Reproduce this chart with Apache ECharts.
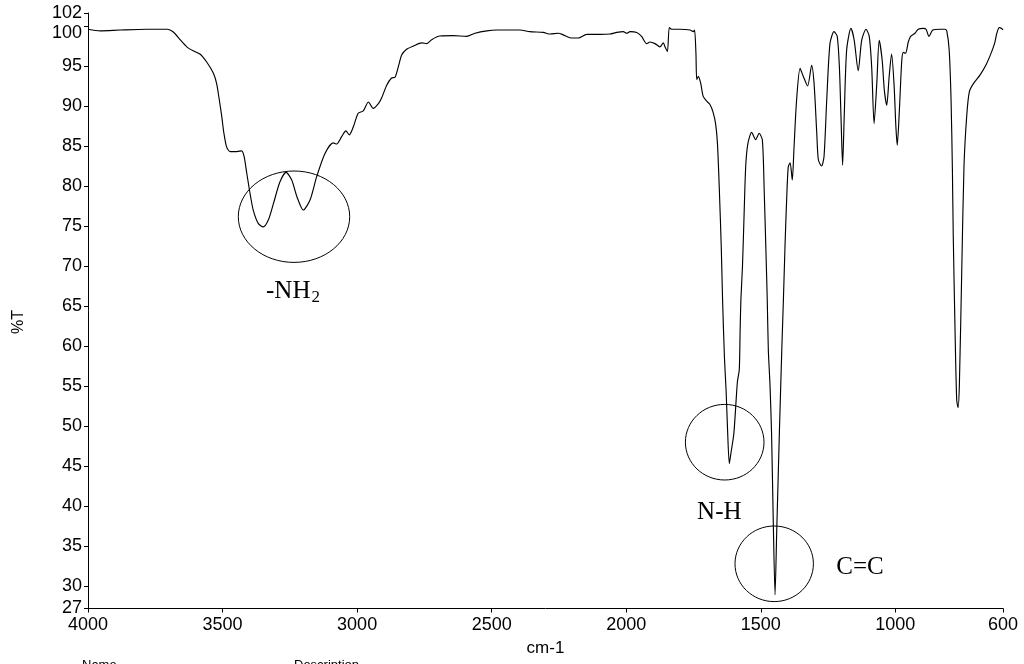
<!DOCTYPE html>
<html><head><meta charset="utf-8">
<script src="https://cdn.jsdelivr.net/npm/echarts@6/dist/echarts.min.js"></script>
<style>html,body{margin:0;padding:0;background:#fff;}#c{width:1024px;height:664px;}</style>
</head><body><div id="c"></div>
<script>
// ---- data ----
const wavenumbers = [4000,3955,3881,3782,3705,3683,3658,3633,3609,3584,3559,3534,3522,3512,3503,3495,3485,3472,3447,3429,3420,3410,3398,3386,3367,3349,3330,3311,3287,3264,3243,3224,3200,3175,3150,3119,3089,3076,3057,3042,3029,3014,2996,2977,2958,2940,2921,2909,2890,2872,2859,2847,2834,2816,2791,2760,2741,2723,2692,2643,2593,2562,2518,2481,2444,2395,2358,2308,2283,2252,2234,2203,2178,2147,2097,2060,2035,2011,1998,1986,1961,1943,1924,1912,1893,1875,1862,1856,1847,1840,1831,1800,1763,1751,1746,1741,1738,1732,1723,1714,1701,1689,1678,1668,1661,1654,1647,1642,1635,1629,1624,1617,1611,1600,1587,1580,1577,1574,1568,1562,1556,1548,1534,1519,1506,1494,1487,1481,1476,1472,1466,1460,1454,1447,1441,1431,1422,1416,1410,1404,1398,1391,1383,1377,1367,1354,1342,1326,1311,1302,1292,1286,1274,1265,1255,1243,1228,1216,1208,1202,1196,1190,1181,1165,1153,1138,1125,1109,1097,1088,1079,1069,1060,1049,1041,1032,1023,1014,1005,998,993,985,976,970,962,952,943,927,915,896,886,875,861,834,816,809,800,793,788,785,778,772,767,762,753,745,735,725,710,685,661,642,630,623,614,605,600];
const transmittance = [99.6,99.4,99.5,99.6,99.6,99.25,98.3,97.4,96.9,96.5,95.5,94.1,92.8,90.75,88.7,86.6,84.9,84.3,84.3,84.4,83.7,81.6,79.1,77.0,75.3,74.9,75.75,77.8,80.5,81.7,80.75,78.7,77.0,78.25,81.2,84.1,85.4,85.25,86.2,86.9,86.4,87.4,89.1,89.4,90.5,89.7,90.3,91.0,92.6,93.5,93.6,94.9,96.4,97.1,97.5,97.9,97.8,98.3,98.75,98.8,98.7,99.1,99.4,99.5,99.5,99.5,99.3,99.2,99.0,99.1,98.9,98.5,98.5,98.95,98.95,99.0,99.2,99.3,99.1,99.3,99.2,98.7,97.8,98.0,97.8,97.4,97.9,97.4,96.8,99.8,99.6,99.6,99.5,99.3,99.5,96.6,93.3,93.7,92.8,91.2,90.6,90.2,89.3,87.8,85.3,79.5,72.5,65.75,58.5,54.5,50.0,45.3,46.6,49.1,55.5,57.0,61.6,65.75,70.0,76.5,82.5,85.3,86.7,85.8,86.6,85.7,79.0,72.0,65.75,59.5,55.3,49.1,38.7,28.9,36.6,49.1,59.5,65.75,72.5,78.25,82.4,82.9,80.75,84.5,90.75,94.7,93.7,92.5,95.1,92.8,86.6,83.25,82.5,83.7,90.75,97.8,99.3,98.7,94.9,88.7,82.6,88.7,97.0,99.7,98.25,94.4,98.25,99.6,98.7,94.9,87.8,92.8,98.2,95.75,92.0,90.1,93.7,96.5,92.8,87.4,85.1,89.5,95.75,96.7,96.6,98.0,98.7,99.1,99.6,99.7,99.6,98.7,99.5,99.6,99.6,99.4,97.0,90.75,82.0,74.1,61.6,53.25,52.3,55.3,69.9,82.4,88.7,91.8,92.8,93.9,95.3,96.8,98.0,99.1,99.8,99.7,99.5];

const xRange = [600, 4000];
const xTickValues = [4000, 3500, 3000, 2500, 2000, 1500, 1000, 600];
const yRange = [27.19, 101.63];
const yTickValues = [27.19, 30, 35, 40, 45, 50, 55, 60, 65, 70, 75, 80, 85, 90, 95, 100, 101.63];
const yTickLabels = ['27','30','35','40','45','50','55','60','65','70','75','80','85','90','95','100','102'];
const annotationTexts = ['-NH', '2', 'N-H', 'C=C'];
const xAxisTitle = 'cm-1';
const yAxisTitle = '%T';
const footerTexts = ['Name', 'Description'];

const SANS = '"Liberation Sans", Arial, sans-serif';
const SERIF = '"Liberation Serif", "Times New Roman", serif';

function yIndex(v) {
  let best = 0, bd = Infinity;
  yTickValues.forEach((t, i) => { const d = Math.abs(t - v); if (d < bd) { bd = d; best = i; } });
  return best;
}
function yLabel(v) {
  const i = yIndex(v);
  // the "100" label sits just below its tick in the original, to clear "102"
  return i === yTickValues.length - 2 ? '{low|' + yTickLabels[i] + '}' : yTickLabels[i];
}

const chart = echarts.init(document.getElementById('c'), null, {renderer: 'canvas'});
chart.setOption({
  animation: false,
  backgroundColor: '#ffffff',
  grid: {left: 88, right: 21, top: 13, bottom: 55.5, containLabel: false},
  xAxis: {
    type: 'value', inverse: true, min: xRange[0], max: xRange[1],
    name: xAxisTitle, nameLocation: 'middle', nameGap: 22,
    nameTextStyle: {fontFamily: SANS, fontSize: 17, color: '#000'},
    axisLine: {show: true, onZero: false, lineStyle: {color: '#000', width: 1}},
    axisTick: {show: true, length: 4, customValues: xTickValues, lineStyle: {color: '#000', width: 1}},
    axisLabel: {customValues: xTickValues, formatter: v => String(v), showMinLabel: true, showMaxLabel: true, hideOverlap: false,
      fontFamily: SANS, fontSize: 18, color: '#000', margin: 8},
    splitLine: {show: false}
  },
  yAxis: {
    type: 'value', min: yRange[0], max: yRange[1],
    axisLine: {show: true, lineStyle: {color: '#000', width: 1}},
    axisTick: {show: true, length: 4, customValues: yTickValues, lineStyle: {color: '#000', width: 1}},
    axisLabel: {customValues: yTickValues, formatter: yLabel, showMinLabel: true, showMaxLabel: true, hideOverlap: false,
      fontFamily: SANS, fontSize: 18, color: '#000', margin: 6,
      rich: {low: {padding: [14, 0, 0, 0], fontFamily: SANS, fontSize: 18, color: '#000'}}},
    splitLine: {show: false}
  },
  series: [{
    type: 'line',
    data: wavenumbers.map((w, i) => [w, transmittance[i]]),
    showSymbol: false, smooth: 0.25,
    lineStyle: {color: '#000', width: 1.15}
  }],
  graphic: [
    {type: 'ellipse', shape: {cx: 294, cy: 216.7, rx: 55.7, ry: 45.7}, style: {fill: 'none', stroke: '#000', lineWidth: 1}},
    {type: 'ellipse', shape: {cx: 724.7, cy: 442.2, rx: 39.3, ry: 37.8}, style: {fill: 'none', stroke: '#000', lineWidth: 1}},
    {type: 'ellipse', shape: {cx: 774.2, cy: 563.8, rx: 39.2, ry: 37.8}, style: {fill: 'none', stroke: '#000', lineWidth: 1}},
    {type: 'text', x: 266, y: 291, style: {text: annotationTexts[0], fontFamily: SERIF, fontSize: 25, fill: '#000', align: 'left', verticalAlign: 'middle', textAlign: 'left', textVerticalAlign: 'middle'}},
    {type: 'text', x: 311.5, y: 297.5, style: {text: annotationTexts[1], fontFamily: SERIF, fontSize: 17, fill: '#000', align: 'left', verticalAlign: 'middle', textAlign: 'left', textVerticalAlign: 'middle'}},
    {type: 'text', x: 719.3, y: 512.5, style: {text: annotationTexts[2], fontFamily: SERIF, fontSize: 25, fill: '#000', align: 'center', verticalAlign: 'middle', textAlign: 'center', textVerticalAlign: 'middle'}},
    {type: 'text', x: 860, y: 567.5, style: {text: annotationTexts[3], fontFamily: SERIF, fontSize: 25, fill: '#000', align: 'center', verticalAlign: 'middle', textAlign: 'center', textVerticalAlign: 'middle'}},
    {type: 'text', x: 19, y: 322, rotation: Math.PI / 2, style: {text: yAxisTitle, fontFamily: SANS, fontSize: 16, fill: '#000', align: 'center', verticalAlign: 'middle', textAlign: 'center', textVerticalAlign: 'middle'}},
    {type: 'text', x: 82, y: 658.5, style: {text: footerTexts[0], fontFamily: SANS, fontSize: 13, fill: '#000', align: 'left', verticalAlign: 'top', textAlign: 'left', textVerticalAlign: 'top'}},
    {type: 'text', x: 294, y: 658.5, style: {text: footerTexts[1], fontFamily: SANS, fontSize: 13, fill: '#000', align: 'left', verticalAlign: 'top', textAlign: 'left', textVerticalAlign: 'top'}}
  ]
});
</script>
</body></html>
